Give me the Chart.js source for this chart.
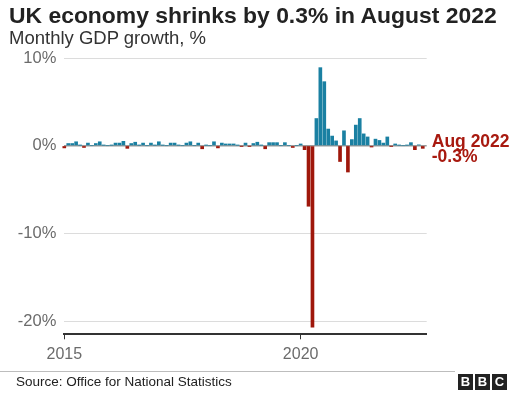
<!DOCTYPE html>
<html><head><meta charset="utf-8">
<script src="https://cdn.jsdelivr.net/npm/chart.js@4"></script>
<style>
html,body{margin:0;padding:0;background:#fff;}
body{width:526px;height:393px;position:relative;overflow:hidden;font-family:'Liberation Sans',Arial,sans-serif;}
#c{position:absolute;left:0;top:0;}
.title{position:absolute;left:9px;top:3.5px;font-size:22.9px;line-height:23px;font-weight:bold;color:#222;white-space:nowrap;}
.sub{position:absolute;left:9px;top:29.4px;font-size:18.5px;line-height:18.5px;color:#333;white-space:nowrap;}
.rule{position:absolute;left:0;top:371px;width:455px;height:1px;background:#bdbdbd;}
.src{position:absolute;left:16px;top:375px;font-size:13.5px;line-height:13.5px;color:#222;white-space:nowrap;}
.bbc{position:absolute;left:458px;top:374px;display:flex;gap:2px;}
.bbc span{display:block;width:15px;height:16px;background:#222;color:#fff;font-weight:bold;font-size:13px;line-height:16px;text-align:center;}
</style></head>
<body>
<canvas id="c" width="526" height="393"></canvas>
<div class="title">UK economy shrinks by 0.3% in August 2022</div>
<div class="sub">Monthly GDP growth, %</div>
<div class="rule"></div>
<div class="src">Source: Office for National Statistics</div>
<div class="bbc"><span>B</span><span>B</span><span>C</span></div>
<script>
const years = [2015, 2016, 2017, 2018, 2019, 2020, 2021, 2022];
const monthNames = ["Jan","Feb","Mar","Apr","May","Jun","Jul","Aug","Sep","Oct","Nov","Dec"];
const categories = [];
years.forEach(y => monthNames.forEach(m => { if (categories.length < 92) categories.push(m + " " + y); }));

const gdpGrowth = [
  -0.25, 0.25, 0.25, 0.45, 0.05, -0.2, 0.3, 0.0, 0.25, 0.45, 0.05, 0.0,
  0.05, 0.3, 0.3, 0.5, -0.3, 0.25, 0.4, 0.05, 0.3, 0.0, 0.3, 0.05,
  0.45, 0.05, 0.0, 0.3, 0.3, 0.05, 0.0, 0.3, 0.45, 0.0, 0.3, -0.35,
  0.05, 0.0, 0.45, -0.25, 0.3, 0.2, 0.2, 0.2, 0.05, -0.05, 0.3, -0.05,
  0.25, 0.4, 0.05, -0.35, 0.35, 0.35, 0.35, 0.0, 0.35, 0.0, -0.2, 0.0,
  0.2, -0.45, -6.9, -20.7, 3.1, 8.9, 7.3, 1.9, 1.1, 0.55, -1.8, 1.7,
  -3.0, 0.7, 2.35, 3.1, 1.35, 1.0, -0.15, 0.75, 0.6, 0.3, 1.0, -0.05,
  0.2, 0.05, 0.0, 0.05, 0.35, -0.45, 0.1, -0.3
];

const xTickLabels = ["2015", "2020"];
const yTickValues = [10, 0, -10, -20];
const annotationLabel = "Aug 2022";

const xTickPositions = xTickLabels.map(y => categories.indexOf("Jan " + y));
const BLUE = "#1a80a2", RED = "#9f170b";

const annotate = {
  id: 'annotate',
  afterDatasetsDraw(chart) {
    const ctx = chart.ctx;
    const xs = chart.scales.x, ys = chart.scales.y;
    const last = gdpGrowth.length - 1;
    const x = xs.getPixelForValue(last) + 9;
    const y0 = ys.getPixelForValue(0);
    ctx.save();
    ctx.fillStyle = "#a8190f";
    ctx.font = "bold 17.5px 'Liberation Sans', Arial, sans-serif";
    ctx.textAlign = "left";
    ctx.textBaseline = "alphabetic";
    ctx.fillText(annotationLabel, x, y0 + 1);
    ctx.fillText(gdpGrowth[last].toFixed(1) + "%", x, y0 + 16.5);
    ctx.restore();
  }
};

new Chart(document.getElementById('c'), {
  type: 'bar',
  data: {
    datasets: [{
      data: gdpGrowth.map((v, i) => ({ x: i, y: v })),
      backgroundColor: gdpGrowth.map(v => v < 0 ? RED : BLUE),
      borderWidth: 0,
      barThickness: 3,
      clip: false
    }]
  },
  options: {
    responsive: false,
    animation: false,
    devicePixelRatio: 1,
    layout: { padding: { left: 0, top: 58, right: 99.3, bottom: 0 } },
    plugins: { legend: { display: false }, tooltip: { enabled: false }, title: { display: false } },
    scales: {
      x: {
        type: 'linear',
        min: 0,
        max: categories.length,
        offset: false,
        afterFit(scale) { scale.height = 58.7; },
        afterBuildTicks(scale) { scale.ticks = xTickPositions.map(v => ({ value: v })); },
        grid: { display: true, drawOnChartArea: false, drawTicks: true, tickLength: 5, color: '#333', lineWidth: 1, offset: false },
        border: { display: true, color: '#333', width: 2 },
        ticks: {
          autoSkip: false, maxRotation: 0, padding: 6, color: '#6b6b6b',
          font: { size: 16, family: "'Liberation Sans', Arial, sans-serif" },
          callback: v => xTickLabels[xTickPositions.indexOf(v)]
        }
      },
      y: {
        min: -21.5,
        max: 10,
        afterFit(scale) { scale.width = 64.3; },
        afterBuildTicks(scale) { scale.ticks = yTickValues.map(v => ({ value: v })); },
        grid: {
          drawTicks: false,
          color: c => c.tick && c.tick.value === 0 ? '#9a9a9a' : '#dcdcdc',
          lineWidth: c => c.tick && c.tick.value === 0 ? 1.5 : 1
        },
        border: { display: false },
        ticks: {
          padding: 8, color: '#6b6b6b',
          font: { size: 16.5, family: "'Liberation Sans', Arial, sans-serif" },
          callback: v => v + "%"
        }
      }
    }
  },
  plugins: [annotate]
});
</script>
</body></html>
